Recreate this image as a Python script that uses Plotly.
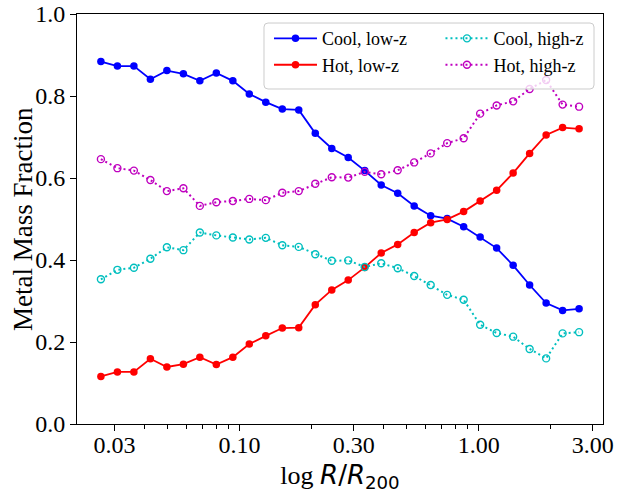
import plotly.graph_objects as go

# Radial bins (R / R200), evenly spaced in log
r_bins = [0.02630, 0.03083, 0.03614, 0.04236, 0.04965, 0.05820, 0.06820, 0.07994,
          0.09370, 0.1098, 0.1287, 0.1509, 0.1768, 0.2073, 0.2430, 0.2847,
          0.3337, 0.3912, 0.4585, 0.5374, 0.6299, 0.7383, 0.8653, 1.0144,
          1.1890, 1.3937, 1.6334, 1.9148, 2.2441, 2.6303]

cool_low = [0.884, 0.873, 0.873, 0.841, 0.862, 0.854, 0.837, 0.856, 0.837, 0.805,
            0.785, 0.768, 0.766, 0.709, 0.672, 0.650, 0.618, 0.583, 0.563, 0.532,
            0.508, 0.501, 0.481, 0.456, 0.429, 0.387, 0.339, 0.295, 0.277, 0.281]
hot_low = [0.116, 0.127, 0.127, 0.159, 0.139, 0.146, 0.163, 0.145, 0.163, 0.195,
           0.215, 0.234, 0.235, 0.291, 0.327, 0.351, 0.382, 0.417, 0.438, 0.467,
           0.491, 0.499, 0.518, 0.544, 0.570, 0.612, 0.660, 0.705, 0.723, 0.720]
cool_high = [0.353, 0.376, 0.381, 0.403, 0.431, 0.424, 0.467, 0.460, 0.455, 0.450,
             0.454, 0.436, 0.432, 0.414, 0.398, 0.399, 0.383, 0.392, 0.380, 0.361,
             0.339, 0.315, 0.303, 0.242, 0.222, 0.213, 0.183, 0.160, 0.221, 0.224]
hot_high = [0.646, 0.624, 0.618, 0.595, 0.568, 0.575, 0.532, 0.541, 0.544, 0.549,
            0.546, 0.564, 0.568, 0.586, 0.602, 0.601, 0.615, 0.609, 0.619, 0.638,
            0.660, 0.685, 0.697, 0.757, 0.777, 0.787, 0.817, 0.839, 0.779, 0.774]

x_tickvals = [0.03, 0.1, 0.3, 1.0, 3.0]
x_ticktext = ["0.03", "0.10", "0.30", "1.00", "3.00"]
x_minor = [0.04, 0.05, 0.06, 0.07, 0.08, 0.09,
           0.2, 0.4, 0.5, 0.6, 0.7, 0.8, 0.9, 2.0]
y_tickvals = [0, 0.2, 0.4, 0.6, 0.8, 1.0]

SERIF = "Liberation Serif"

fig = go.Figure()

# solid low-z curves with filled markers (left legend column)
fig.add_trace(go.Scatter(
    x=r_bins, y=cool_low, name="Cool, low-z", mode="lines+markers",
    line=dict(color="#0000ff", width=1.8),
    marker=dict(symbol="circle", size=7.5, color="#0000ff"),
    legend="legend"))
fig.add_trace(go.Scatter(
    x=r_bins, y=hot_low, name="Hot, low-z", mode="lines+markers",
    line=dict(color="#ff0000", width=1.8),
    marker=dict(symbol="circle", size=7.5, color="#ff0000"),
    legend="legend"))
# dotted high-z curves with open markers (right legend column)
fig.add_trace(go.Scatter(
    x=r_bins, y=cool_high, name="Cool, high-z", mode="lines+markers",
    line=dict(color="#00bfbf", width=2, dash="2px,3px"),
    marker=dict(symbol="circle-open", size=7, color="#00bfbf",
                line=dict(width=1.4, color="#00bfbf")),
    legend="legend2"))
fig.add_trace(go.Scatter(
    x=r_bins, y=hot_high, name="Hot, high-z", mode="lines+markers",
    line=dict(color="#bf00bf", width=2, dash="2px,3px"),
    marker=dict(symbol="circle-open", size=7, color="#bf00bf",
                line=dict(width=1.4, color="#bf00bf")),
    legend="legend2"))

# rounded, semi-transparent frame behind both legend columns
bx0, bx1, by0, by1 = 0.3555, 0.9829, 0.8171, 0.978
rx, ry = 4 / 526, 4 / 410
frame_path = (
    f"M{bx0 + rx},{by0} L{bx1 - rx},{by0} Q{bx1},{by0} {bx1},{by0 + ry} "
    f"L{bx1},{by1 - ry} Q{bx1},{by1} {bx1 - rx},{by1} "
    f"L{bx0 + rx},{by1} Q{bx0},{by1} {bx0},{by1 - ry} "
    f"L{bx0},{by0 + ry} Q{bx0},{by0} {bx0 + rx},{by0} Z"
)
fig.add_shape(type="path", path=frame_path, xref="paper", yref="paper",
              layer="above", fillcolor="rgba(255,255,255,0.8)",
              line=dict(color="#cccccc", width=1))

legend_common = dict(
    orientation="v", xanchor="left", yanchor="top", itemwidth=43,
    bgcolor="rgba(0,0,0,0)", borderwidth=0,
    font=dict(family=SERIF, size=18, color="black"), traceorder="normal",
)

# y-axis title placed as a rotated annotation just left of the tick labels
fig.add_annotation(
    text="Metal Mass Fraction", textangle=-90,
    xref="paper", yref="paper", x=-0.1027, y=0.5,
    xanchor="center", yanchor="middle", showarrow=False,
    font=dict(family=SERIF, size=27, color="black"),
)

fig.update_layout(
    width=618, height=493,
    margin=dict(l=77, r=15, t=14, b=69, autoexpand=False),
    paper_bgcolor="white", plot_bgcolor="white",
    font=dict(family=SERIF, color="black", size=24),
    showlegend=True,
    legend=dict(x=0.365, y=0.985, **legend_common),
    legend2=dict(x=0.691, y=0.985, **legend_common),
)

fig.update_xaxes(
    type="log", range=[-1.68, 0.52], automargin=False,
    tickvals=x_tickvals, ticktext=x_ticktext,
    ticks="outside", ticklen=6, tickwidth=1, tickcolor="black",
    ticklabelstandoff=-7,
    minor=dict(tickvals=x_minor, ticks="outside", ticklen=3.5,
               tickwidth=0.8, tickcolor="black", showgrid=False),
    showgrid=False, zeroline=False,
    showline=True, linecolor="black", linewidth=1, mirror=True,
    tickfont=dict(family=SERIF, size=24),
    title=dict(
        text="log <span style='font-family:DejaVu Sans'><i>R</i>/<i>R</i><sub>200</sub></span>",
        font=dict(family=SERIF, size=26), standoff=13),
)
fig.update_yaxes(
    range=[0, 1], automargin=False,
    tickvals=y_tickvals, tickformat=".1f",
    ticks="outside", ticklen=6, tickwidth=1, tickcolor="black",
    showgrid=False, zeroline=False,
    showline=True, linecolor="black", linewidth=1, mirror=True,
    tickfont=dict(family=SERIF, size=24),
)

fig.write_html("out.html")
